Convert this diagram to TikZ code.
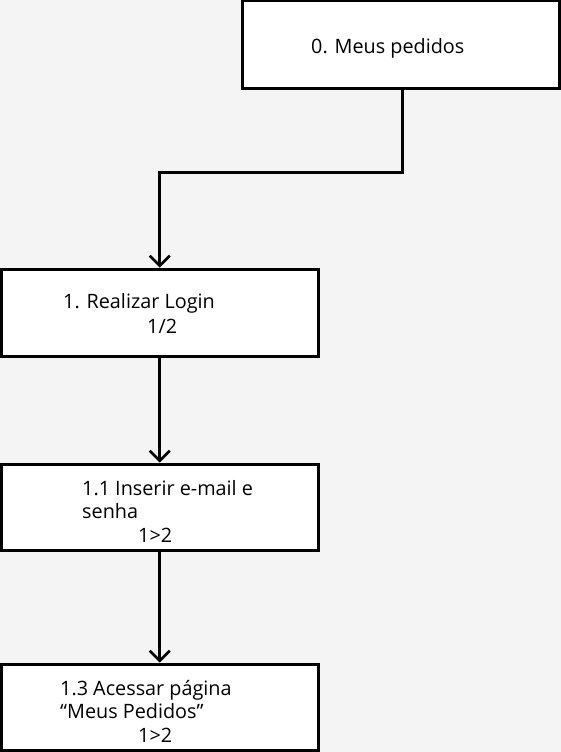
\documentclass[tikz,border=0pt]{standalone}
\usepackage{fontspec}
\setmainfont{Open Sans}
\usetikzlibrary{arrows.meta}
\definecolor{bg}{HTML}{F4F4F4}
\tikzset{
  box/.style={draw=black, fill=white, line width=3pt, rectangle, inner sep=0pt},
  lbl/.style={anchor=base west, inner sep=0pt, font=\fontsize{19.8}{23}\selectfont},
  conn/.style={draw=black, line width=3pt, -{Straight Barb[length=10pt,width=20pt,line width=2.5pt]}},
}
\begin{document}
\begin{tikzpicture}[x=1pt,y=-1pt]
\fill[bg] (0,0) rectangle (561,752);
\useasboundingbox (0,0) rectangle (561,752);
\node[box, minimum width=317pt, minimum height=87pt] (b0) at (400.5,44.5) {};
\node[box, minimum width=316.5pt, minimum height=87pt] (b1) at (159.75,312.5) {};
\node[box, minimum width=316.5pt, minimum height=86pt] (b11) at (159.75,507) {};
\node[box, minimum width=316.5pt, minimum height=86pt] (b13) at (159.75,707) {};
\node[lbl] (t0) at (311,53) {0. Meus pedidos};
\node[lbl] (t1a) at (63,308) {1. Realizar Login};
\node[lbl] (t1b) at (147,333) {1/2};
\node[lbl] (t2a) at (82,495) {1.1 Inserir e-mail e};
\node[lbl] (t2b) at (82,518) {senha};
\node[lbl] (t2c) at (138,542) {1>2};
\node[lbl] (t3a) at (60,695) {1.3 Acessar página};
\node[lbl] (t3b) at (60,718) {“Meus Pedidos”};
\node[lbl] (t3c) at (138,742) {1>2};
\coordinate (c0) at (402,88);
\draw[conn] (c0) -- (402,172.5) -| (b1.north);
\draw[conn] (b1.south) -- (b11.north);
\draw[conn] (b11.south) -- (b13.north);
\end{tikzpicture}
\end{document}
